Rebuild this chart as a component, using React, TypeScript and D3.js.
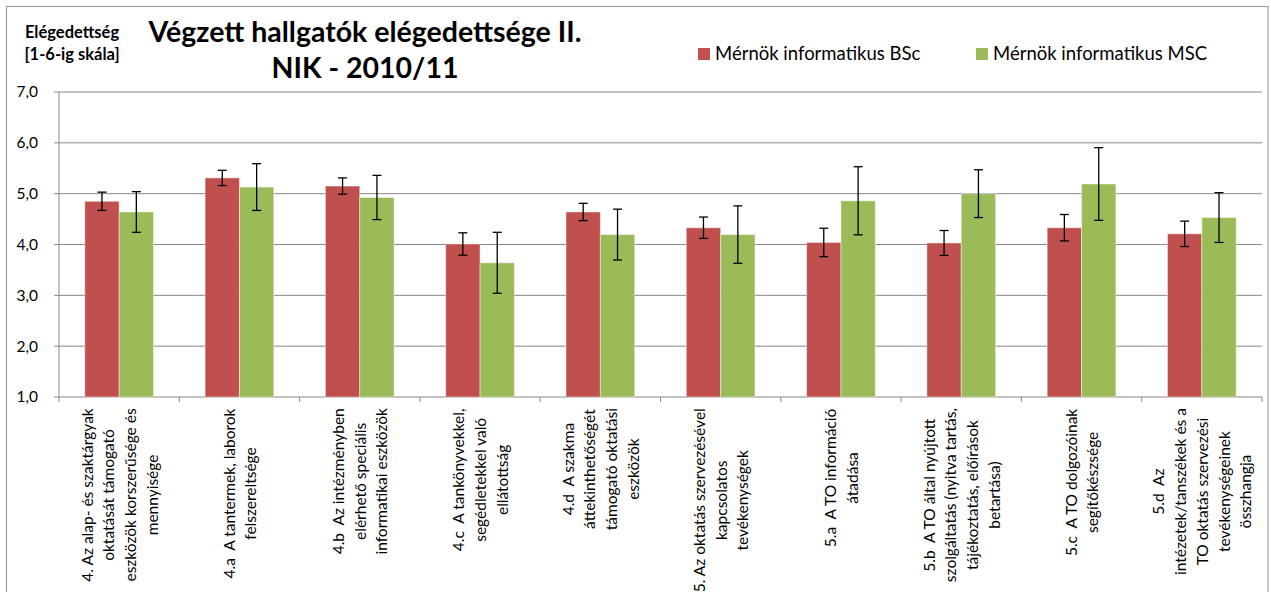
import React from "react";
import * as d3 from "d3";

const categories: string[][] = [
  ["4. Az alap- és szaktárgyak", "oktatását támogató", "eszközök korszerűsége és", "mennyisége"],
  ["4.a  A tantermek, laborok", "felszereltsége"],
  ["4.b  Az intézményben", "elérhető speciális", "informatikai eszközök"],
  ["4.c  A tankönyvekkel,", "segédletekkel való", "ellátottság"],
  ["4.d  A szakma", "áttekinthetőségét", "támogató oktatási", "eszközök"],
  ["5. Az oktatás szervezésével", "kapcsolatos", "tevékenységek"],
  ["5.a  A TO információ", "átadása"],
  ["5.b  A TO által nyújtott", "szolgáltatás (nyitva tartás,", "tájékoztatás, előírások", "betartása)"],
  ["5.c  A TO dolgozóinak", "segítőkészsége"],
  ["5.d  Az", "intézetek/tanszékek és a", "TO oktatás szervezési", "tevékenységeinek", "összhangja"],
];

const seriesNames = ["Mérnök informatikus BSc", "Mérnök informatikus MSC"];
const bscValues = [4.85, 5.31, 5.15, 4.01, 4.64, 4.33, 4.04, 4.03, 4.33, 4.21];
const bscErrors = [0.18, 0.15, 0.16, 0.22, 0.17, 0.21, 0.28, 0.245, 0.26, 0.25];
const mscValues = [4.64, 5.13, 4.925, 3.64, 4.195, 4.195, 4.86, 5.0, 5.19, 4.53];
const mscErrors = [0.4, 0.46, 0.435, 0.6, 0.5, 0.565, 0.67, 0.47, 0.715, 0.49];
const yTicks = [1, 2, 3, 4, 5, 6, 7];
const titleLines = ["Végzett hallgatók elégedettsége II.", "NIK - 2010/11"];
const yTitleLines = ["Elégedettség", "[1-6-ig skála]"];

const COLORS = ["#C0504D", "#9BBB59"];
const FONT = "Lato, 'Open Sans', sans-serif";
const LABEL_SIZE = 15.5;

let ctx: CanvasRenderingContext2D | null = null;
function measure(text: string, font: string): number {
  if (!ctx) ctx = document.createElement("canvas").getContext("2d");
  if (!ctx) return text.length * 7.5;
  ctx.font = font;
  return ctx.measureText(text).width;
}

export default function App() {
  const W = 1271, H = 592;
  const left = 59, right = 1262, top = 92, bottom = 397;
  const x = d3.scaleBand<number>().domain(d3.range(categories.length)).range([left, right]).padding(0);
  const y = d3.scaleLinear().domain([1, 7]).range([bottom, top]);
  const bw = x.bandwidth() / 3.5;
  const series = [
    { vals: bscValues, errs: bscErrors },
    { vals: mscValues, errs: mscErrors },
  ];
  const fmt = (v: number) => d3.format(".1f")(v).replace(".", ",");
  const lineGap = 21.7;
  const labelTop = 408;

  return (
    <svg width={W} height={H} style={{ position: "absolute", left: 0, top: 0, background: "#fff" }} fontFamily={FONT}>
      <rect x={6.5} y={6.5} width={1261.5} height={H + 20} fill="#fff" stroke="#a0a0a0" strokeWidth={1.2} />
      {yTicks.map((t) => (
        <line key={"g" + t} x1={left - 5} x2={right} y1={y(t)} y2={y(t)} stroke="#888" strokeWidth={1} />
      ))}
      {yTicks.map((t) => (
        <text key={"t" + t} x={38} y={y(t)} dy="0.35em" textAnchor="end" fontSize={15.5} fill="#000">
          {fmt(t)}
        </text>
      ))}
      <line x1={left} x2={left} y1={top} y2={bottom} stroke="#888" />
      {d3.range(categories.length + 1).map((i) => {
        const xx = left + i * x.step();
        return <line key={"xt" + i} x1={xx} x2={xx} y1={bottom} y2={bottom + 5} stroke="#888" />;
      })}
      {series.map((s, si) =>
        s.vals.map((v, i) => {
          const cx = (x(i) as number) + x.bandwidth() / 2;
          const bx = cx - bw + si * bw;
          return (
            <rect key={`b${si}-${i}`} x={bx} y={y(v)} width={bw} height={y(1) - y(v)} fill={COLORS[si]}
              stroke="#fff" strokeOpacity={0.45} strokeWidth={1} />
          );
        })
      )}
      {series.map((s, si) =>
        s.vals.map((v, i) => {
          const cx = (x(i) as number) + x.bandwidth() / 2;
          const ex = cx - bw / 2 + si * bw;
          const y1 = y(v + s.errs[i]);
          const y2 = y(v - s.errs[i]);
          return (
            <g key={`e${si}-${i}`} stroke="#000" strokeWidth={1.3}>
              <line x1={ex} x2={ex} y1={y1} y2={y2} />
              <line x1={ex - 4.5} x2={ex + 4.5} y1={y1} y2={y1} />
              <line x1={ex - 4.5} x2={ex + 4.5} y1={y2} y2={y2} />
            </g>
          );
        })
      )}
      {categories.map((lines, i) => {
        const cx = (x(i) as number) + x.bandwidth() / 2;
        const font = `${LABEL_SIZE}px ${FONT}`;
        const maxLen = d3.max(lines, (l) => measure(l, font)) || 0;
        const yc = labelTop + maxLen / 2;
        const n = lines.length;
        return lines.map((l, j) => {
          const lx = cx + (j - (n - 1) / 2) * lineGap;
          return (
            <text key={`l${i}-${j}`} x={lx} y={yc} transform={`rotate(-90,${lx},${yc})`} textAnchor="middle"
              dominantBaseline="central" fontSize={LABEL_SIZE} fill="#000" style={{ whiteSpace: "pre" }}>
              {l}
            </text>
          );
        });
      })}
      {titleLines.map((t, i) => (
        <text key={"ti" + i} x={365} y={41.7 + i * 36} textAnchor="middle" fontSize={28.5} fontWeight="bold" fill="#000">
          {t}
        </text>
      ))}
      {yTitleLines.map((t, i) => (
        <text key={"yt" + i} x={72} y={38 + i * 22} textAnchor="middle" fontSize={16.5} fontWeight="bold" fill="#000">
          {t}
        </text>
      ))}
      {seriesNames.map((n, i) => {
        const lx = i === 0 ? 698 : 976;
        return (
          <g key={"lg" + i}>
            <rect x={lx} y={48} width={12} height={12} fill={COLORS[i]} />
            <text x={lx + 17} y={60} fontSize={18.5} fill="#000">{n}</text>
          </g>
        );
      })}
    </svg>
  );
}
